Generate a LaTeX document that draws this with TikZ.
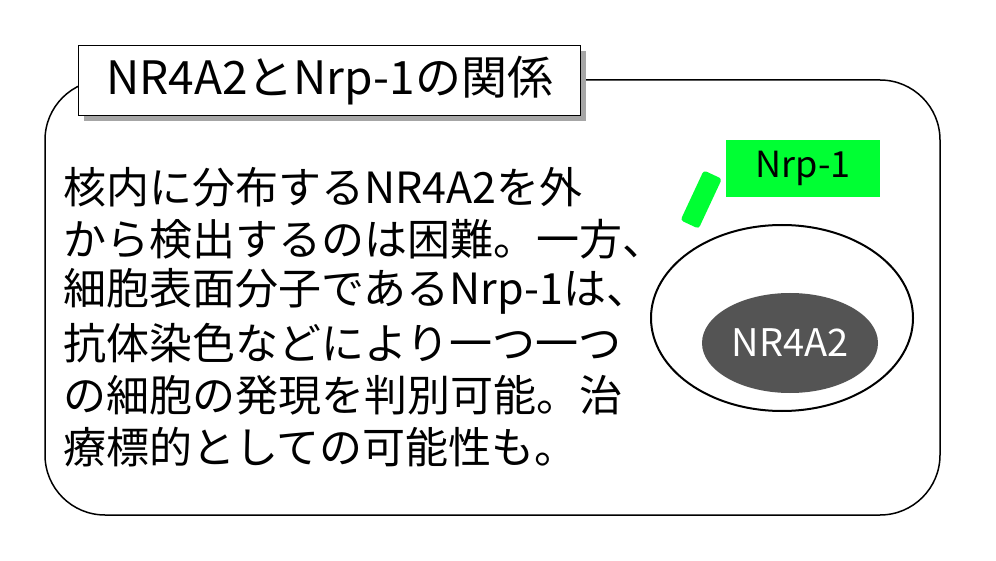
\documentclass[tikz,border=0pt]{standalone}
\usepackage{fontspec}
\usetikzlibrary{shapes.geometric}
\setmainfont{Noto Sans CJK JP}
\definecolor{nrpgreen}{RGB}{0,255,51}
\begin{document}
\begin{tikzpicture}[x=1pt,y=-1pt,
  body/.style={anchor=west,inner sep=0pt,font=\fontsize{43}{52}\selectfont}]
\useasboundingbox (0,0) rectangle (996,561);
\draw[line width=1.5pt,rounded corners=60pt] (45,80) rectangle (940,515);
\fill[gray!70] (84,51) rectangle (586,121);
\node[draw,line width=1.2pt,fill=white,minimum width=502pt,minimum height=70pt,anchor=north west,inner sep=0pt,font=\fontsize{46}{50}\selectfont] (title) at (78,45) {NR4A2とNrp-1の関係};
\node[body] (l1) at (63,187) {核内に分布するNR4A2を外};
\node[body] (l2) at (63,239) {から検出するのは困難。一方、};
\node[body] (l3) at (63,291) {細胞表面分子であるNrp-1は、};
\node[body] (l4) at (63,343) {抗体染色などにより一つ一つ};
\node[body] (l5) at (63,395) {の細胞の発現を判別可能。治};
\node[body] (l6) at (63,447) {療標的としての可能性も。};
\node[draw,line width=2pt,ellipse,minimum width=262pt,minimum height=186pt,inner sep=0pt] (cell) at (782,318) {};
\node[ellipse,fill=black!67,minimum width=176pt,minimum height=100pt,text=white,font=\fontsize{38}{42}\selectfont] (nuc) at (790,343) {NR4A2};
\node[fill=nrpgreen,minimum width=154pt,minimum height=57pt,anchor=north west,inner sep=0pt,font=\fontsize{36}{40}\selectfont] (lab) at (726,140) {Nrp-1};
\fill[nrpgreen,rounded corners=3pt,rotate around={-25:(701,200)}] (691,172) rectangle (711,227);
\end{tikzpicture}
\end{document}
